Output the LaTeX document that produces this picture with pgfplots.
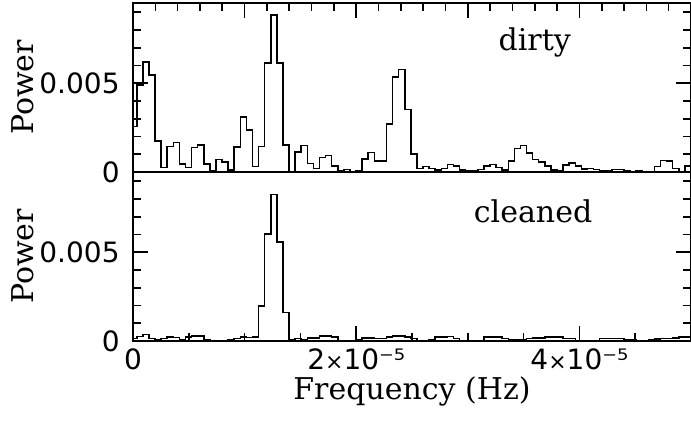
\documentclass[border=0pt]{standalone}
\usepackage{fontspec}
\setmainfont{DejaVu Serif}
\newfontfamily\tickfamily{DejaVu Sans}
\usepackage{pgfplots}
\usepackage{pgfplotstable}
\pgfplotsset{compat=1.18}

% x in units of 1e-6 Hz (bin left edges), y = power
\pgfplotstableread{
x y
0 2.56e-3
0.3405 4.9e-3
0.8862 6.2e-3
1.4319 5.45e-3
1.9776 1.74e-3
2.5233 0.26e-3
3.069 1.43e-3
3.6147 1.67e-3
4.1604 0.45e-3
4.7061 0.26e-3
5.2518 1.39e-3
5.7975 1.52e-3
6.3432 0.44e-3
6.8889 0.07e-3
7.4346 0.71e-3
7.9803 0.55e-3
8.526 0.10e-3
9.0717 1.41e-3
9.6174 3.10e-3
10.1631 2.36e-3
10.7088 0.30e-3
11.2545 1.43e-3
11.8002 6.15e-3
12.3459 8.83e-3
12.8916 6.15e-3
13.4373 1.52e-3
13.983 0
14.5287 1.14e-3
15.0744 1.48e-3
15.6201 0.49e-3
16.1658 0.20e-3
16.7115 0.82e-3
17.2572 0.92e-3
17.8029 0.33e-3
18.3486 0.07e-3
18.8943 0.15e-3
19.44 0.03e-3
19.9857 0.07e-3
20.5314 0.73e-3
21.0771 1.10e-3
21.6228 0.62e-3
22.1685 0.62e-3
22.7142 2.70e-3
23.2599 5.36e-3
23.8056 5.77e-3
24.3513 3.52e-3
24.897 1.01e-3
25.4427 0.20e-3
25.9884 0.30e-3
26.5341 0.20e-3
27.0798 0.11e-3
27.6255 0.20e-3
28.1712 0.43e-3
28.7169 0.35e-3
29.2626 0.11e-3
29.8083 0.07e-3
30.354 0.07e-3
30.8997 0.15e-3
31.4454 0.33e-3
31.9911 0.43e-3
32.5368 0.24e-3
33.0825 0.11e-3
33.6282 0.63e-3
34.1739 1.31e-3
34.7196 1.50e-3
35.2653 1.07e-3
35.811 0.70e-3
36.3567 0.57e-3
36.9024 0.33e-3
37.4481 0.11e-3
37.9938 0.07e-3
38.5395 0.39e-3
39.0852 0.52e-3
39.6309 0.33e-3
40.1766 0.17e-3
40.7223 0.19e-3
41.268 0.15e-3
41.8137 0.05e-3
42.3594 0.05e-3
42.9051 0.13e-3
43.4508 0.15e-3
43.9965 0.05e-3
44.5422 0.03e-3
45.0879 0.07e-3
45.6336 0.03e-3
46.1793 0.03e-3
46.725 0.30e-3
47.2707 0.65e-3
47.8164 0.61e-3
48.3621 0.20e-3
48.9078 0
49.4535 0.35e-3
50 0.35e-3
}\dirtytable

\pgfplotstableread{
x y
0 0.13e-3
0.3405 0.26e-3
0.8862 0.38e-3
1.4319 0.13e-3
1.9776 0.09e-3
2.5233 0.13e-3
3.069 0.23e-3
3.6147 0.19e-3
4.1604 0.08e-3
4.7061 0.23e-3
5.2518 0.28e-3
5.7975 0.28e-3
6.3432 0.09e-3
6.8889 0.04e-3
7.4346 0.04e-3
7.9803 0.04e-3
8.526 0.08e-3
9.0717 0.13e-3
9.6174 0.23e-3
10.1631 0.19e-3
10.7088 0.23e-3
11.2545 1.97e-3
11.8002 6.04e-3
12.3459 8.25e-3
12.8916 5.57e-3
13.4373 1.60e-3
13.983 0.09e-3
14.5287 0.13e-3
15.0744 0.08e-3
15.6201 0.17e-3
16.1658 0.17e-3
16.7115 0.28e-3
17.2572 0.28e-3
17.8029 0.23e-3
18.3486 0.04e-3
18.8943 0.04e-3
19.44 0
19.9857 0.08e-3
20.5314 0.17e-3
21.0771 0.17e-3
21.6228 0.13e-3
22.1685 0.13e-3
22.7142 0.23e-3
23.2599 0.28e-3
23.8056 0.28e-3
24.3513 0.23e-3
24.897 0.13e-3
25.4427 0.04e-3
25.9884 0.04e-3
26.5341 0.09e-3
27.0798 0.23e-3
27.6255 0.23e-3
28.1712 0.26e-3
28.7169 0.13e-3
29.2626 0
29.8083 0
30.354 0.04e-3
30.8997 0.04e-3
31.4454 0.23e-3
31.9911 0.23e-3
32.5368 0.23e-3
33.0825 0.13e-3
33.6282 0.08e-3
34.1739 0.08e-3
34.7196 0.08e-3
35.2653 0.13e-3
35.811 0.17e-3
36.3567 0.17e-3
36.9024 0.23e-3
37.4481 0.23e-3
37.9938 0.23e-3
38.5395 0.13e-3
39.0852 0.13e-3
39.6309 0.04e-3
40.1766 0
40.7223 0
41.268 0
41.8137 0.13e-3
42.3594 0.13e-3
42.9051 0.13e-3
43.4508 0.13e-3
43.9965 0.08e-3
44.5422 0.08e-3
45.0879 0.04e-3
45.6336 0.04e-3
46.1793 0.08e-3
46.725 0.11e-3
47.2707 0.13e-3
47.8164 0.13e-3
48.3621 0.17e-3
48.9078 0.23e-3
49.4535 0.23e-3
50 0.23e-3
}\cleantable

\newcommand{\labelfont}{\fontsize{15}{18}\selectfont}
\newcommand{\tickfont}{\tickfamily\fontsize{14}{16}\selectfont}
\newcommand{\tms}{{\fontsize{11}{11}\selectfont ×}}

\pgfplotsset{
  panel/.style={
    scale only axis, width=279pt, height=84.5pt,
    xmin=0, xmax=50, ymin=0, ymax=9.52e-3,
    axis line style={line width=1pt},
    every tick/.style={black, line width=0.8pt},
    major tick length=7.5pt, minor tick length=3.8pt,
    tick align=inside,
    scaled x ticks=false, scaled y ticks=false,
    ytick={0,0.005}, yticklabels={0,0.005},
    minor ytick={0.001,0.002,0.003,0.004,0.006,0.007,0.008,0.009},
    ytick pos=both, yticklabel pos=left,
    yticklabel style={font=\tickfont, anchor=east, inner sep=0pt, xshift=-6.5pt},
    xticklabel style={font=\tickfont, anchor=north, inner sep=0pt, text height=10pt, text depth=0pt, yshift=-3.8pt},
  }
}

\begin{document}
\begin{tikzpicture}
\begin{axis}[panel, name=bot, at={(0,0)}, anchor=south west,
  xtick={0,20,40}, xticklabels={0,2\tms 10⁻⁵,4\tms 10⁻⁵},
  minor xtick={5,10,15,25,30,35,45}, xtick pos=left]
\addplot[const plot, black, line width=0.75pt] table[x=x,y=y]{\cleantable};
\node[anchor=base, font=\labelfont] at (rel axis cs:0.717,0.70) {cleaned};
\end{axis}
\begin{axis}[panel, name=top, at={(0,84.5pt)}, anchor=south west,
  xtick={0,10,20,30,40,50}, minor x tick num=4, xticklabels={}, xtick pos=right]
\addplot[const plot, black, line width=0.75pt] table[x=x,y=y]{\dirtytable};
\node[anchor=base, font=\labelfont] at (rel axis cs:0.72,0.716) {dirty};
\end{axis}
\node[rotate=90, font=\labelfont] at ([xshift=-55pt]top.west) {Power};
\node[rotate=90, font=\labelfont] at ([xshift=-55pt]bot.west) {Power};
\node[anchor=base, font=\labelfont] at ([yshift=-29pt]bot.south) {Frequency (Hz)};
\pgfresetboundingbox
\path[use as bounding box] (-66.5pt,-44pt) rectangle (279pt,170.5pt);
\end{tikzpicture}
\end{document}
